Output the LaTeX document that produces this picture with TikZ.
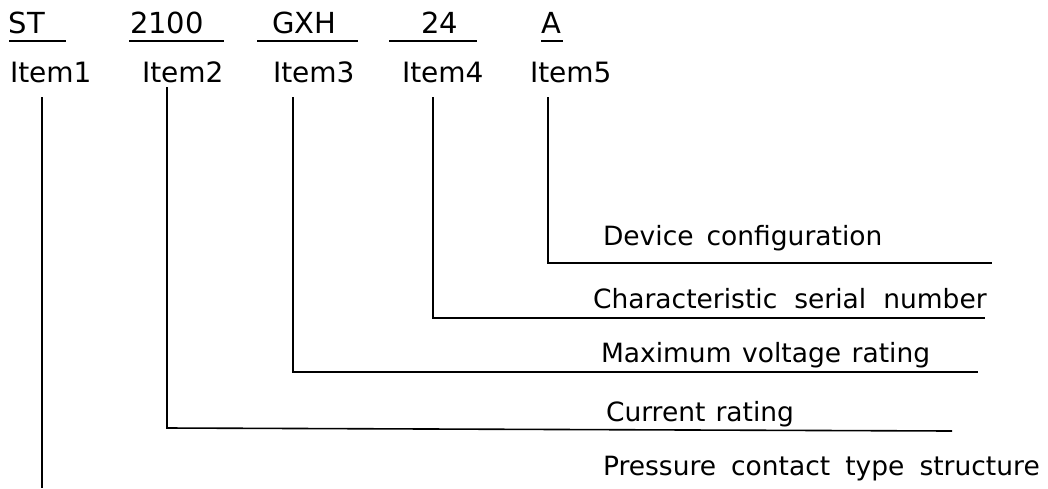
\documentclass[tikz,border=0pt]{standalone}
\usepackage{fontspec}
\setmainfont{DejaVu Sans}
\begin{document}
\begin{tikzpicture}[x=1pt,y=-1pt,
  txt/.style={anchor=base west,inner sep=0pt,outer sep=0pt,font=\fontsize{26.5}{32}\selectfont},
  code/.style={txt,font=\fontsize{29}{34}\selectfont},
  item/.style={txt,font=\fontsize{28}{34}\selectfont},
  uline/.style={line width=2pt},
  conn/.style={line width=1.6pt,line join=miter}]
\useasboundingbox (0,0) rectangle (1048,488);
% top code row
\node[code] (st)    at (9,33)   {ST};
\node[code] (n2100) at (130,33) {2100};
\node[code] (gxh)   at (272,33) {GXH};
\node[code] (n24)   at (421,33) {24};
\node[code] (a)     at (541,33) {A};
\coordinate (u1a) at (9,41);   \coordinate (u1b) at (66,41);
\coordinate (u2a) at (129,41); \coordinate (u2b) at (224,41);
\coordinate (u3a) at (257,41); \coordinate (u3b) at (358,41);
\coordinate (u4a) at (389,41); \coordinate (u4b) at (477,41);
\coordinate (u5a) at (541,41); \coordinate (u5b) at (563,41);
\draw[uline] (u1a) -- (u1b);
\draw[uline] (u2a) -- (u2b);
\draw[uline] (u3a) -- (u3b);
\draw[uline] (u4a) -- (u4b);
\draw[uline] (u5a) -- (u5b);
% item row
\node[item] (i1) at (10,82)  {Item1};
\node[item] (i2) at (142,82) {Item2};
\node[item] (i3) at (273,82) {Item3};
\node[item] (i4) at (402,82) {Item4};
\node[item] (i5) at (530,82) {Item5};
% labels
\node[txt] (l5) at (603,245) {Device\hspace{13pt}configuration};
\node[txt] (l4) at (593,308) {Characteristic\hspace{17pt}serial\hspace{17pt}number};
\node[txt] (l3) at (601,362) {Maximum\hspace{10.5pt}voltage\hspace{10.5pt}rating};
\node[txt] (l2) at (606,421) {Current\hspace{10pt}rating};
\node[txt] (l1) at (603,475) {Pressure\hspace{15pt}contact\hspace{15pt}type\hspace{15pt}structure};
% connector points
\coordinate (s1) at (42,97);  \coordinate (e1) at (42,488);
\coordinate (s2) at (167,87); \coordinate (c2) at (167,428); \coordinate (e2) at (952,431);
\coordinate (s3) at (293,97); \coordinate (c3) at (293,372); \coordinate (e3) at (978,372);
\coordinate (s4) at (433,97); \coordinate (c4) at (433,318); \coordinate (e4) at (985,318);
\coordinate (s5) at (548,97); \coordinate (c5) at (548,263); \coordinate (e5) at (992,263);
\draw[conn] (s1) -- (e1);
\draw[conn] (s2) -- (c2) -- (e2);
\draw[conn] (s3) -- (c3) -- (e3);
\draw[conn] (s4) -- (c4) -- (e4);
\draw[conn] (s5) -- (c5) -- (e5);
\end{tikzpicture}
\end{document}
